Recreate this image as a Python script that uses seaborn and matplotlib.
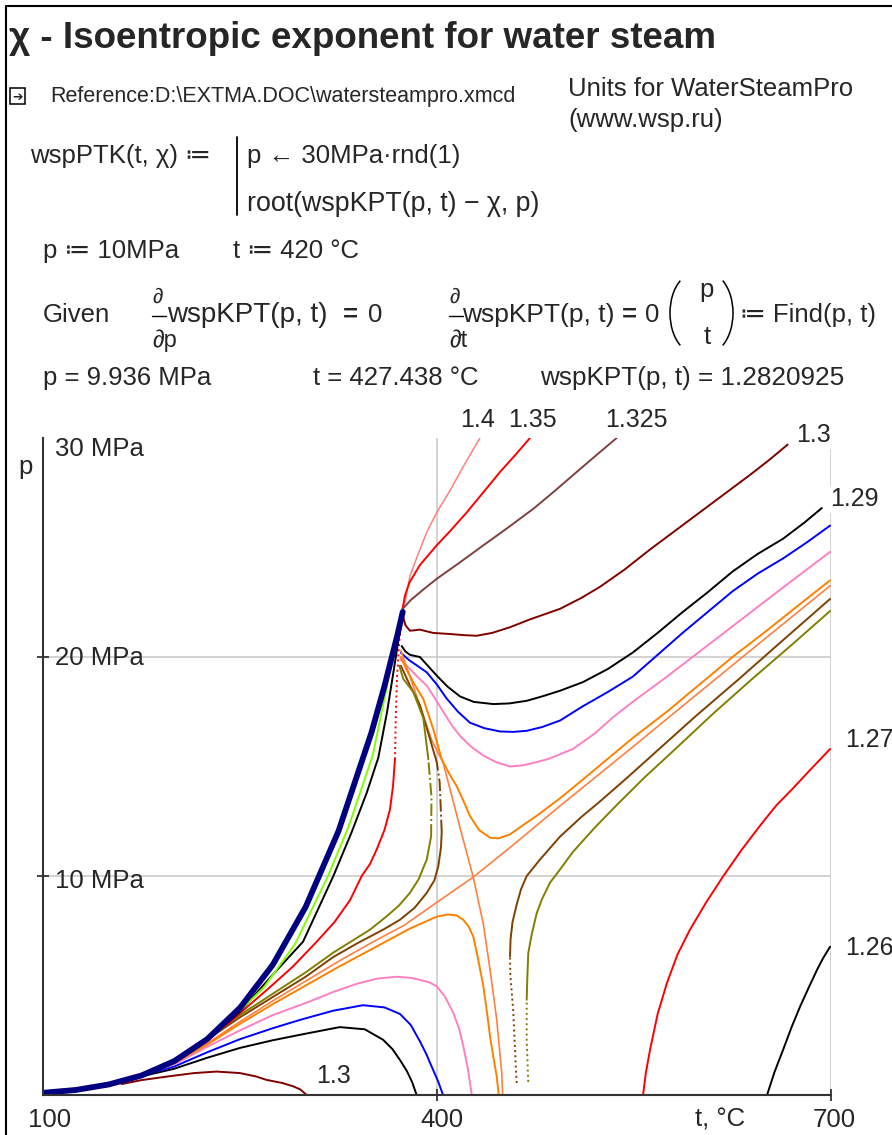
import matplotlib
matplotlib.use("Agg")
import matplotlib.pyplot as plt
from matplotlib.patches import Rectangle, Arc
from matplotlib.lines import Line2D
import seaborn as sns

# ---- data (t in degC, p in MPa) ----

# saturation line (thick navy)
t_sat = [100, 125, 150, 175, 200, 225, 250, 275, 300, 325, 350, 360, 370, 373.9]
p_sat = [0.10, 0.23, 0.48, 0.89, 1.55, 2.55, 3.98, 5.95, 8.59, 12.05, 16.53, 18.67, 21.04, 22.06]

# curves left of the critical point
t_lime = [250, 268, 292, 317, 333, 351, 361, 367.5]
p_lime = [3.85, 4.9, 6.9, 10.0, 12.3, 15.5, 18.4, 20.6]
t_blk_left = [200, 225, 250, 275, 298, 321.1, 335, 346.5, 355.3, 362, 366.8, 372]
p_blk_left = [1.5, 2.5, 3.8, 5.5, 7.0, 10.0, 12.0, 13.8, 15.4, 17.5, 19.3, 21.3]
t_red_left = [200, 220, 241.8, 255, 270.5, 290, 308.4, 322, 333.8, 342.7, 349, 354, 360, 364.2, 366.5, 368]
p_red_left = [1.5, 2.3, 3.3, 4.0, 4.8, 5.85, 7.0, 7.9, 8.9, 10.0, 10.55, 11.2, 12.1, 13.04, 14.1, 15.33]
t_red_left_dot = [368, 368.5, 369.5, 371, 372.5]
p_red_left_dot = [15.33, 17.0, 19.0, 20.5, 21.5]

# k = 1.4, 1.35, 1.325 (upper right only)
t_k140 = [373.5, 375.6, 377.5, 379.4, 385, 392.2, 399.8, 409.9, 421, 432.7]
p_k140 = [22.2, 22.5, 23.1, 23.7, 24.6, 25.7, 26.6, 27.6, 28.8, 30.0]
t_k135 = [373.8, 375.6, 379, 387, 399.8, 410, 422.6, 435, 448, 460, 470.8]
p_k135 = [22.2, 22.8, 23.4, 24.2, 25.1, 25.75, 26.6, 27.5, 28.45, 29.25, 30.0]
t_k1325 = [373.9, 380, 390, 399.8, 417, 435.3, 455, 473.4, 490, 506.4, 521, 536.8]
p_k1325 = [22.2, 22.6, 23.1, 23.57, 24.3, 25.1, 25.95, 26.77, 27.6, 28.45, 29.2, 30.0]

# k = 1.3
t_k130_up = [373.9, 376, 379.4, 383, 387, 397, 409.9, 420, 430.2, 442, 455.6, 470, 493.7, 510,
             524, 543, 562, 581, 600, 619, 638, 653, 667]
p_k130_up = [21.9, 21.45, 21.2, 21.22, 21.25, 21.1, 21.05, 21.0, 20.97, 21.1, 21.36, 21.7, 22.2, 22.7,
             23.2, 24.0, 24.9, 25.75, 26.6, 27.45, 28.3, 29.0, 29.7]
t_k130_low = [160, 175, 194.2, 215, 232.2, 250, 262, 270.2, 282, 290.4, 296, 300.8]
p_k130_low = [0.50, 0.68, 0.84, 1.0, 1.07, 1.0, 0.85, 0.69, 0.55, 0.40, 0.25, 0.0]

# k = 1.29 (black)
t_k129_up = [373.1, 376, 379.4, 383, 387, 393, 399.8, 408, 417.5, 428, 442.9, 455, 468.3, 480, 493.7,
             511, 530, 549, 568, 587, 606, 625, 644, 663.5, 680, 693]
p_k129_up = [20.5, 20.25, 20.1, 20.05, 20.0, 19.6, 19.15, 18.65, 18.2, 17.95, 17.85, 17.88, 18.0, 18.2, 18.46,
             18.85, 19.45, 20.2, 21.1, 22.05, 22.95, 23.9, 24.7, 25.4, 26.15, 26.8]
t_k129_low = [150, 175, 200, 225, 250, 275, 300, 326, 345, 359, 366, 371.8, 377, 381, 384.5]
p_k129_low = [0.46, 0.85, 1.2, 1.7, 2.15, 2.5, 2.8, 3.1, 3.0, 2.52, 2.1, 1.6, 1.1, 0.6, 0.0]

# blue
t_blue_up = [372.5, 376, 379.4, 385, 392.2, 399.8, 407.4, 416, 425.1, 436, 448, 458, 468.3, 480, 493.7,
             511, 530, 549, 568, 587, 606, 625, 644, 663.5, 682, 699.3]
p_blue_up = [20.2, 20.0, 19.83, 19.6, 19.3, 18.75, 18.1, 17.5, 17.0, 16.75, 16.6, 16.58, 16.63, 16.8, 17.1,
             17.75, 18.4, 19.1, 20.1, 21.1, 22.05, 23.0, 23.8, 24.5, 25.25, 26.0]
t_blue_low = [150, 175, 200, 225, 250, 275, 295.7, 321, 343.7, 360, 371.8, 380, 387, 392, 397, 401, 404.6]
p_blue_low = [0.46, 0.88, 1.3, 1.95, 2.55, 3.05, 3.43, 3.85, 4.1, 4.0, 3.7, 3.2, 2.45, 1.85, 1.15, 0.6, 0.0]

# pink
t_pink_up = [372, 376, 379.4, 385, 392.2, 398, 404.8, 411, 417.5, 426, 435.3, 445, 455.6, 465, 475.9,
             485, 493.7, 503.5, 520, 535, 549, 575, 600, 625, 651, 675, 699.3]
p_pink_up = [19.9, 19.65, 19.45, 19.1, 18.7, 18.15, 17.5, 16.9, 16.4, 15.9, 15.5, 15.2, 15.0, 15.05, 15.2,
             15.35, 15.56, 15.8, 16.5, 17.3, 17.95, 19.1, 20.25, 21.4, 22.6, 23.7, 24.8]
t_pink_low = [150, 175, 200, 225, 250, 275, 300, 320.8, 340, 355, 369.5, 380, 387, 394, 399.8, 406,
              412.5, 417, 420.1, 423.5, 426.5]
p_pink_low = [0.46, 0.9, 1.4, 2.2, 2.95, 3.65, 4.2, 4.7, 5.1, 5.32, 5.4, 5.35, 5.26, 5.15, 4.96, 4.5,
              3.74, 3.0, 2.21, 1.2, 0.0]

# orange (both branches)
t_orng_up = [372.5, 377, 382, 389.6, 397.2, 403.6, 409, 415, 420, 425.1, 432, 440.4, 447, 455.6, 465,
             475.9, 493.7, 510, 524, 549, 575, 600, 625, 651, 675, 699.3]
p_orng_up = [20.0, 19.4, 18.84, 18.08, 16.7, 15.33, 14.7, 14.1, 13.45, 12.74, 12.1, 11.75, 11.72, 11.9, 12.3,
             12.75, 13.55, 14.35, 15.05, 16.3, 17.5, 18.75, 20.0, 21.2, 22.35, 23.5]
t_orng_low = [150, 175, 200, 225, 250, 275, 300, 325, 350, 379.4, 400, 408.6, 415, 420, 424, 427.6,
              431, 435.3, 438, 440.4, 443, 445.5, 447]
p_orng_low = [0.46, 0.9, 1.45, 2.3, 3.25, 4.15, 5.0, 5.85, 6.65, 7.6, 8.15, 8.24, 8.2, 8.0, 7.7, 7.24,
              6.3, 4.96, 3.8, 2.67, 1.7, 0.84, 0.0]

# coral separatrices, crossing at the saddle (427.4 degC, 9.94 MPa)
t_coral_a = [150, 175, 200, 225, 250, 275, 300, 325, 350, 375, 400, 427.6, 455.6, 493.7, 550, 600, 650, 699.3]
p_coral_a = [0.46, 0.92, 1.47, 2.35, 3.35, 4.3, 5.2, 6.1, 6.95, 7.75, 8.8, 9.95, 11.3, 13.2, 15.94, 18.4, 20.85, 23.25]
t_coral_b = [372.5, 380, 388, 396, 401, 404.5, 410, 418, 427.6, 435.3, 440.4, 445.5, 449.3, 450]
p_coral_b = [20.3, 19.0, 17.6, 16.2, 15.6, 15.2, 13.95, 12.1, 9.95, 7.8, 5.72, 3.43, 1.0, 0.0]

# brown
t_brwn_left = [150, 175, 200, 250, 300, 321, 340, 359, 371.8, 383, 392.2, 398, 401, 403, 403.6]
p_brwn_left = [0.46, 0.93, 1.5, 3.55, 5.4, 6.3, 6.95, 7.55, 8.0, 8.55, 9.23, 9.8, 10.45, 11.3, 12.0]
t_brwn_left_dash = [403.6, 402, 399.8]
p_brwn_left_dash = [12.0, 14.3, 15.2]
t_brwn_top = [399.8, 394.7, 387, 379.4, 372.5]
p_brwn_top = [15.2, 16.25, 17.8, 18.7, 19.6]
t_brwn_right_dot = [460.7, 460, 458, 455.8, 455.6]
p_brwn_right_dot = [0.55, 1.3, 3.9, 5.5, 6.33]
t_brwn_right = [455.6, 456, 457.5, 460.7, 464, 468.3, 478.4, 493.7, 510, 524, 545, 564.5, 597, 630, 665, 699.3]
p_brwn_right = [6.33, 7.1, 7.9, 8.7, 9.4, 10.0, 10.75, 11.8, 12.7, 13.4, 14.5, 15.55, 17.3, 19.0, 20.85, 22.65]

# olive
t_olv_left = [150, 175, 200, 250, 300, 321, 349, 361.7, 371, 379.4, 386, 392.2, 395.5]
p_olv_left = [0.46, 0.94, 1.5, 3.65, 5.6, 6.5, 7.55, 8.16, 8.65, 9.23, 9.85, 10.75, 11.8]
t_olv_left_dash = [395.5, 395.8, 393.4]
p_olv_left_dash = [11.8, 13.6, 15.33]
t_olv_top = [393.4, 389.6, 382, 374.3, 371.3]
p_olv_top = [15.33, 17.2, 18.4, 19.0, 19.6]
t_olv_right_dot = [469.5, 468.3, 468.3]
p_olv_right_dot = [0.6, 2.5, 4.35]
t_olv_right = [468.3, 468.8, 469.5, 472, 475.9, 480, 486, 493.7, 503.5, 520, 537, 558, 579.7, 610, 640, 670, 699.3]
p_olv_right = [4.35, 5.4, 6.48, 7.3, 8.3, 8.95, 9.69, 10.3, 11.1, 12.2, 13.25, 14.5, 15.7, 17.4, 19.0, 20.55, 22.1]

# k = 1.27 and 1.26 (right part)
t_k127 = [556.9, 559, 562.2, 568, 575, 583, 592.6, 605, 617.8, 632, 646, 658, 671, 685, 699.3]
p_k127 = [0.0, 1.0, 2.06, 3.7, 5.1, 6.4, 7.55, 8.8, 9.98, 11.2, 12.3, 13.2, 14.0, 14.9, 15.8]
t_k126 = [651.3, 657, 663.5, 670, 676.4, 683, 689.4, 694, 699.3]
p_k126 = [0.0, 1.05, 2.06, 3.1, 4.03, 4.9, 5.72, 6.25, 6.77]

# curve labels
k_labels = ["1.4", "1.35", "1.325", "1.3", "1.29", "1.27", "1.26", "1.3"]
k_label_pos = [(477, 427, "center"), (532, 427, "center"), (636, 427, "center"),
               (814, 442, "center"), (854, 506, "center"), (845, 747, "left"),
               (845, 955, "left"), (333, 1083, "center")]

# ---- drawing ----
sns.set_style("white")
plt.rcParams["font.family"] = ["Liberation Sans", "DejaVu Sans"]

W, H = 892, 1135
fig = plt.figure(figsize=(W / 100, H / 100), dpi=100)
fig.patch.set_facecolor("white")


def put(x, y, s, size=18.5, ha="left", **kw):
    # x, y in pixels of the screenshot, y = text baseline
    fig.text(x / W, 1 - y / H, s, fontsize=size, ha=ha, va="baseline", **kw)


ax = fig.add_axes([43 / W, 1 - 1095 / H, (831 - 43) / W, (1095 - 438) / H])

thin = 1.4
curves = [
    (t_k140, p_k140, "#FF8080", 1.1, "-"),
    (t_k135, p_k135, "#FF0000", thin, "-"),
    (t_k1325, p_k1325, "#804040", thin, "-"),
    (t_k130_up, p_k130_up, "#800000", thin, "-"),
    (t_k130_low, p_k130_low, "#800000", thin, "-"),
    (t_k129_up, p_k129_up, "#000000", thin, "-"),
    (t_k129_low, p_k129_low, "#000000", thin, "-"),
    (t_blue_up, p_blue_up, "#0000FF", thin, "-"),
    (t_blue_low, p_blue_low, "#0000FF", thin, "-"),
    (t_pink_up, p_pink_up, "#FF80C0", thin, "-"),
    (t_pink_low, p_pink_low, "#FF80C0", thin, "-"),
    (t_coral_a, p_coral_a, "#FF8040", 1.2, "-"),
    (t_coral_b, p_coral_b, "#FF8040", 1.2, "-"),
    (t_orng_up, p_orng_up, "#FF8000", thin, "-"),
    (t_orng_low, p_orng_low, "#FF8000", thin, "-"),
    (t_brwn_left, p_brwn_left, "#804000", thin, "-"),
    (t_brwn_left_dash, p_brwn_left_dash, "#804000", thin, "-."),
    (t_brwn_top, p_brwn_top, "#804000", thin, "-"),
    (t_brwn_right_dot, p_brwn_right_dot, "#804000", thin, ":"),
    (t_brwn_right, p_brwn_right, "#804000", thin, "-"),
    (t_olv_left, p_olv_left, "#808000", thin, "-"),
    (t_olv_left_dash, p_olv_left_dash, "#808000", thin, "-."),
    (t_olv_top, p_olv_top, "#808000", thin, "-"),
    (t_olv_right_dot, p_olv_right_dot, "#808000", thin, ":"),
    (t_olv_right, p_olv_right, "#808000", thin, "-"),
    (t_k127, p_k127, "#FF0000", thin, "-"),
    (t_k126, p_k126, "#000000", thin, "-"),
    (t_red_left, p_red_left, "#FF0000", thin, "-"),
    (t_red_left_dot, p_red_left_dot, "#FF0000", thin, ":"),
    (t_blk_left, p_blk_left, "#000000", thin, "-"),
    (t_lime, p_lime, "#80FF00", thin, "-"),
    (t_sat, p_sat, "#000080", 4.2, "-"),
]

for t, p, color, lw, ls in curves:
    sns.lineplot(x=t, y=p, color=color, lw=lw, linestyle=ls, sort=False,
                 estimator=None, ax=ax)

ax.set_xlim(100, 700)
ax.set_ylim(0, 30)
ax.set_xticks([400, 700])
ax.set_yticks([10, 20])
ax.set_xticklabels([])
ax.set_yticklabels([])
ax.set_xlabel("")
ax.set_ylabel("")
ax.grid(True, color="#C8C8C8", lw=1.1)
ax.set_axisbelow(True)
ax.tick_params(bottom=True, left=True, direction="inout", length=9, width=1.3, color="#333333")
for side in ["top", "right"]:
    ax.spines[side].set_visible(False)
for side in ["left", "bottom"]:
    ax.spines[side].set_color("#333333")
    ax.spines[side].set_linewidth(1.5)

# axis texts
put(18, 474, "p")
put(55, 456, "30 MPa")
put(55, 665, "20 MPa")
put(55, 888, "10 MPa")
put(28, 1127, "100")
put(420, 1127, "400")
put(695, 1127, "t, °C")
put(813, 1127, "700")

for s, (x, y, ha) in zip(k_labels, k_label_pos):
    fig.text(x / W, 1 - y / H, s, fontsize=18, ha=ha, va="baseline",
             bbox=dict(facecolor="white", edgecolor="none", pad=1))

# worksheet frame
fig.add_artist(Line2D([6 / W, 1], [1 - 6 / H, 1 - 6 / H], color="black", lw=1.5))
fig.add_artist(Line2D([6 / W, 6 / W], [0, 1 - 6 / H], color="black", lw=1.5))

# header
put(9, 48, "χ - Isoentropic exponent for water steam", size=26.5, fontweight="bold")
fig.add_artist(Rectangle((10 / W, 1 - 104 / H), 15 / W, 16 / H, transform=fig.transFigure,
                         fill=False, edgecolor="black", lw=1.1))
put(17.5, 101, "➔", size=9, ha="center", family=["DejaVu Sans"])
put(50, 102, "Reference:D:\\EXTMA.DOC\\watersteampro.xmcd", size=15.5)
put(568, 96, "Units for WaterSteamPro", size=18.5)
put(568, 127, "(www.wsp.ru)", size=18.5)

# function definition
put(30, 163, "wspPTK(t, χ) ≔")
fig.add_artist(Line2D([237 / W, 237 / W], [1 - 137 / H, 1 - 215 / H], color="black", lw=1.3))
put(247, 163, "p ← 30MPa·rnd(1)")
put(247, 211, "root(wspKPT(p, t) − χ, p)", size=19.3)

put(43, 258, "p ≔ 10MPa")
put(233, 258, "t ≔ 420 °C")

# solve block
put(43, 322, "Given")
for x0, var, x1, size, x_eq, x_zero in [(152, "p", 167, 20, 343, 368), (449, "t", 462, 19, 622, 645)]:
    put(x0, 303, "∂", size=15)
    fig.add_artist(Line2D([x0 / W, (x0 + 14) / W], [1 - 316 / H, 1 - 316 / H], color="black", lw=1.0))
    put(x0, 347, "∂" + var, size=17)
    put(x1, 322, "wspKPT(p, t)", size=size)
    put(x_eq, 322, "=", fontweight="bold")
    put(x_zero, 322, "0")

fig.add_artist(Arc((695 / W, 1 - 313 / H), 50 / W, 80 / H, theta1=120, theta2=240,
                   transform=fig.transFigure, color="black", lw=1.1))
fig.add_artist(Arc((708 / W, 1 - 313 / H), 50 / W, 80 / H, theta1=-60, theta2=60,
                   transform=fig.transFigure, color="black", lw=1.1))
put(707, 297, "p", ha="center")
put(707, 344, "t", ha="center")
put(740, 322, "≔ Find(p, t)")

put(43, 385, "p = 9.936 MPa")
put(313, 385, "t = 427.438 °C")
put(540, 385, "wspKPT(p, t) = 1.2820925", size=18.8)

fig.savefig("out.png", dpi=100, facecolor="white")
